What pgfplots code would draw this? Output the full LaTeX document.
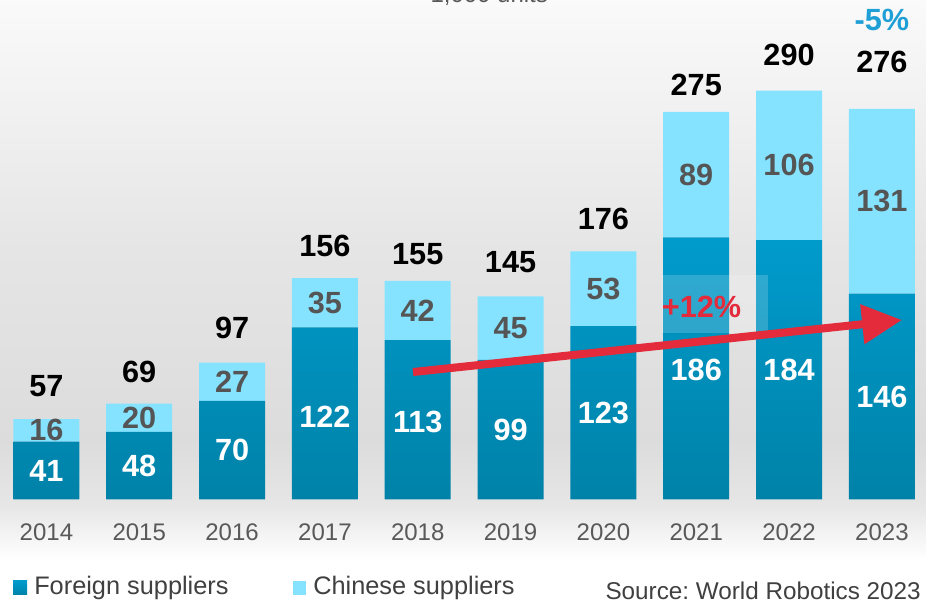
\documentclass[border=0pt]{standalone}
\usepackage{pgfplots}
\pgfplotsset{compat=1.18}
\usepackage{fontspec}
\setmainfont{Liberation Sans}
\usetikzlibrary{arrows.meta}
\frenchspacing
\definecolor{fgtop}{HTML}{009BCC}
\definecolor{fgbot}{HTML}{0082A8}
\definecolor{cn}{HTML}{85E3FF}
\definecolor{lblgray}{HTML}{555555}
\definecolor{yrgray}{HTML}{595959}
\definecolor{leggray}{HTML}{404040}
\definecolor{arrowred}{HTML}{E32B3C}
\definecolor{pctblue}{HTML}{1E9FD6}
\definecolor{bg1}{HTML}{FAFAFA}
\definecolor{bg2}{HTML}{E5E5E5}
\definecolor{bg3}{HTML}{DCDCDC}
\definecolor{bg4}{HTML}{E6E6E6}
\newcommand\vf{\fontsize{23}{23}\selectfont\bfseries}
\newcommand\lf{\fontsize{19}{19}\selectfont}
\tikzset{
  fl/.style={text=white, font=\vf, inner sep=0pt},
  cl/.style={text=lblgray, font=\vf, inner sep=0pt},
  tl/.style={text=black, font=\vf, inner sep=0pt}}
\pgfplotsset{myax/.style={at={(0,0)}, anchor=south west, scale only axis,
  width=694.5pt, height=374.625pt,
  xmin=-0.5, xmax=9.475, ymin=0, ymax=354.3,
  axis line style={draw=none}, ytick=\empty,
  major tick length=0pt, clip=false}}
\begin{document}
\begin{tikzpicture}
\useasboundingbox (0,-78pt) rectangle (694.5pt,374.625pt);
\fill[white] (0,-78pt) rectangle (694.5pt,374.625pt);
\shade[top color=bg1,bottom color=bg2] (0,186.5pt) rectangle (694.5pt,374.625pt);
\shade[top color=bg2,bottom color=bg3] (0,44.2pt) rectangle (694.5pt,187.1pt);
\shade[top color=bg3,bottom color=bg4] (0,-4.1pt) rectangle (694.5pt,44.6pt);
\shade[top color=bg4,bottom color=white] (0,-45.4pt) rectangle (694.5pt,-3.8pt);
\begin{axis}[myax,
  ybar stacked, bar width=49.5pt,
  xtick={0,1,2,3,4,5,6,7,8,9},
  xticklabels={2014,2015,2016,2017,2018,2019,2020,2021,2022,2023},
  xticklabel style={font=\fontsize{18}{18}\selectfont, text=yrgray, anchor=base, yshift=-30.8pt}]
\addplot[draw=none, top color=fgtop, bottom color=fgbot] coordinates
  {(0,41)(1,48)(2,70)(3,122)(4,113)(5,99)(6,123)(7,186)(8,184)(9,146)};
\addplot[draw=none, fill=cn] coordinates
  {(0,16)(1,20)(2,27)(3,35)(4,42)(5,45)(6,53)(7,89)(8,106)(9,131)};
\end{axis}
\begin{axis}[myax, xtick=\empty]
% foreign labels
\foreach \x/\y/\t in {0/20.5/41,1/24/48,2/35/70,3/59/122,4/55/113,5/49.5/99,6/61.5/123,7/92/186,8/92/184,9/73/146}
  {\edef\tmp{\noexpand\node[fl] at (axis cs:\x,\y) {\t};}\tmp}
% chinese labels
\foreach \x/\y/\t in {0/49/16,1/58/20,2/83.5/27,3/139.5/35,4/134/42,5/121.5/45,6/149.5/53,7/230.5/89,8/237/106,9/211.5/131}
  {\edef\tmp{\noexpand\node[cl] at (axis cs:\x,\y) {\t};}\tmp}
% totals
\foreach \x/\y/\t in {0/80.5/57,1/90.4/69,2/121.6/97,3/179.8/156,4/174.1/155,5/168.4/145,6/198.9/176,7/294/275,8/315.2/290,9/310.3/276}
  {\edef\tmp{\noexpand\node[tl] at (axis cs:\x,\y) {\t};}\tmp}
\node[text=pctblue, font=\vf, inner sep=0pt] at (axis cs:9,340) {-5\%};
\fill[white, opacity=0.18] (axis cs:6.631,118.1) rectangle (axis cs:7.773,159.2);
\node[text=arrowred, font=\vf, inner sep=0pt] at (axis cs:7.057,136.5) {+12\%};
\draw[arrowred, line width=6pt, -{Triangle[length=30pt,width=28.5pt]}]
  (axis cs:3.949,90.4) -- (axis cs:9.217,127.3);
\node[text=yrgray, font=\fontsize{18}{18}\selectfont, anchor=base, inner sep=0pt] at (axis cs:4.77,352.8) {1,000 units};
\end{axis}
% legend
\shade[top color=fgtop, bottom color=fgbot] (9.75pt,-61.1pt) rectangle (20.25pt,-71.6pt);
\node[anchor=west, text=leggray, font=\lf, inner sep=0pt] at (25.5pt,-66.4pt) {Foreign suppliers};
\fill[cn] (219.75pt,-61.1pt) rectangle (229.5pt,-71.6pt);
\node[anchor=west, text=leggray, font=\lf, inner sep=0pt] at (234.75pt,-66.4pt) {Chinese suppliers};
\node[anchor=east, text=leggray, font=\fontsize{18.2}{18.2}\selectfont, inner sep=0pt] at (690.75pt,-68.5pt) {Source: World Robotics 2023};
\end{tikzpicture}
\end{document}
